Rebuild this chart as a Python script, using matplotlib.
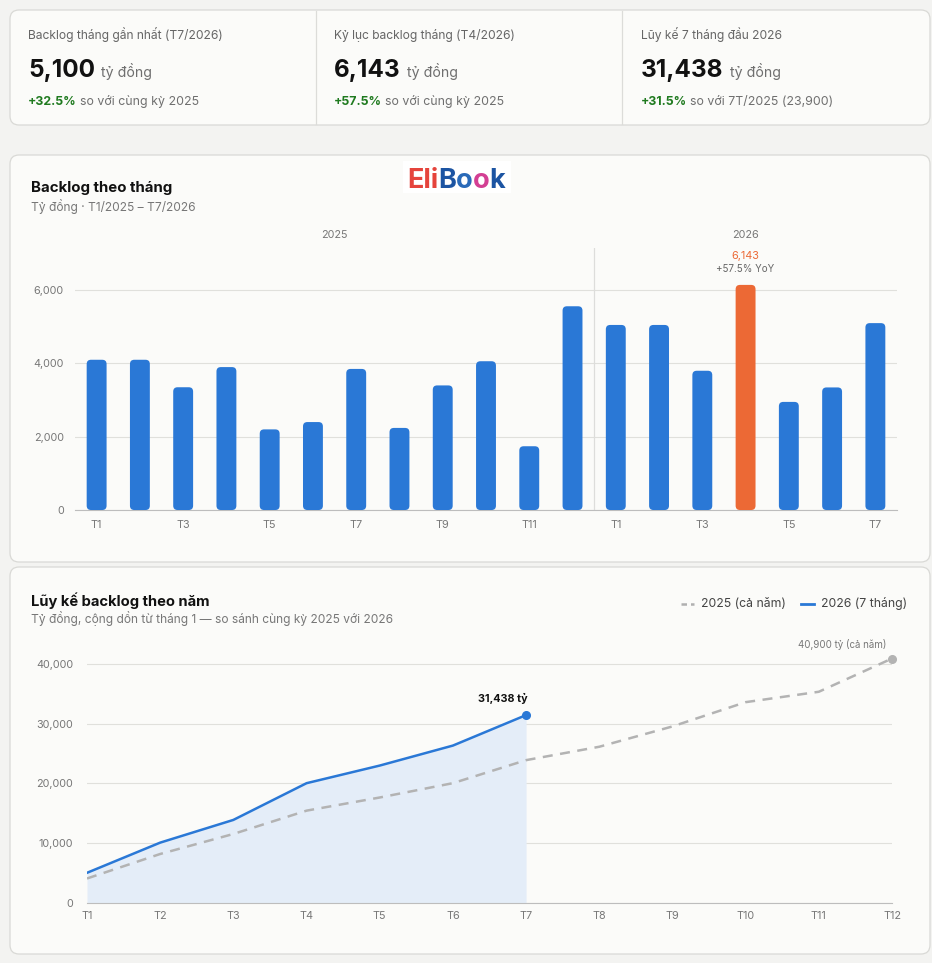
import matplotlib
matplotlib.use("Agg")
import matplotlib.pyplot as plt
from matplotlib.patches import FancyBboxPatch
from matplotlib.lines import Line2D
import numpy as np

plt.rcParams['font.family'] = ['Inter', 'DejaVu Sans']

# ---- data ----
months_2025 = ['T1', 'T2', 'T3', 'T4', 'T5', 'T6', 'T7', 'T8', 'T9', 'T10', 'T11', 'T12']
backlog_2025 = [4100, 4100, 3350, 3900, 2200, 2400, 3850, 2240, 3400, 4060, 1740, 5560]
months_2026 = ['T1', 'T2', 'T3', 'T4', 'T5', 'T6', 'T7']
backlog_2026 = [5050, 5050, 3800, 6143, 2950, 3345, 5100]
yticks_bar = [0, 2000, 4000, 6000]
yticks_line = [0, 10000, 20000, 30000, 40000]

kpi_labels = ['Backlog tháng gần nhất (T7/2026)', 'Kỷ lục backlog tháng (T4/2026)',
              'Lũy kế 7 tháng đầu 2026']
kpi_values = ['5,100', '6,143', '31,438']
kpi_changes = ['+32.5%', '+57.5%', '+31.5%']
kpi_notes = ['so với cùng kỳ 2025', 'so với cùng kỳ 2025', 'so với 7T/2025 (23,900)']

cum_2025 = np.cumsum(backlog_2025)
cum_2026 = np.cumsum(backlog_2026)

BLUE = '#2a78d6'
ORANGE = '#ec6935'
GRAY = '#777777'
GRID = '#e0e0dc'
PAGE = '#f3f3f1'
CARD = '#fbfbf9'

W, H = 932, 963
fig = plt.figure(figsize=(W / 100, H / 100), dpi=100, facecolor=PAGE)
bg = fig.add_axes([0, 0, 1, 1], zorder=0)
bg.set_xlim(0, W)
bg.set_ylim(H, 0)
bg.axis('off')
renderer = fig.canvas.get_renderer()


def card(x0, y0, x1, y1):
    bg.add_patch(FancyBboxPatch((x0, y0), x1 - x0, y1 - y0,
                                boxstyle='round,pad=0,rounding_size=9',
                                fc=CARD, ec='#d9d9d6', lw=0.9))


def run(x, y, parts):
    # draw text pieces one after another on the same baseline
    for s, gap, kw in parts:
        t = bg.text(x, y, s, va='baseline', ha='left', **kw)
        x += t.get_window_extent(renderer).width + gap
    return x


def frac(x0, y0, x1, y1):
    return [x0 / W, 1 - y1 / H, (x1 - x0) / W, (y1 - y0) / H]


# ---- KPI cards ----
card(10, 10, 930, 125)
for xd in [316, 622]:
    bg.plot([xd, xd], [11, 124], color='#dcdcd9', lw=0.9)
for i, x0 in enumerate([28, 334, 641]):
    bg.text(x0, 39.5, kpi_labels[i], fontsize=8.7, color='#666666', va='baseline')
    run(x0, 77, [(kpi_values[i], 6, dict(fontsize=17.5, fontweight='bold', color='#111111')),
                 ('tỷ đồng', 0, dict(fontsize=10.2, color='#6f6f6f'))])
    run(x0, 105, [(kpi_changes[i], 3, dict(fontsize=8.9, fontweight='bold', color='#1f7a1f')),
                  (kpi_notes[i], 0, dict(fontsize=8.9, color='#6f6f6f'))])

# ---- bar card ----
card(10, 155, 930, 562)
bg.text(31, 192, 'Backlog theo tháng', fontsize=10.8, fontweight='bold', color='#111111',
        va='baseline')
bg.text(31, 210.5, 'Tỷ đồng · T1/2025 – T7/2026', fontsize=8.6, color='#777777', va='baseline')

# logo
bg.add_patch(plt.Rectangle((403, 161), 108, 32, fc='white', ec='none'))
run(407, 188, [('Eli', 0, dict(fontsize=19.5, fontweight='bold', color='#e5443c')),
               ('B', 0, dict(fontsize=19.5, fontweight='bold', color='#1c54a2')),
               ('o', 0, dict(fontsize=19.5, fontweight='bold', color='#2a6ab8')),
               ('o', 0, dict(fontsize=19.5, fontweight='bold', color='#d33f93')),
               ('k', 0, dict(fontsize=19.5, fontweight='bold', color='#1c54a2'))])

axb = fig.add_axes(frac(75, 248, 897, 510), zorder=1)
axb.patch.set_alpha(0)
vals = backlog_2025 + backlog_2026
labels = months_2025 + months_2026
xs = np.arange(len(vals))
colors = [BLUE] * len(vals)
rec_i = len(backlog_2025) + int(np.argmax(backlog_2026))
colors[rec_i] = ORANGE
ymax_b = 7150
axb.set_xlim(-0.5, len(vals) - 0.5)
axb.set_ylim(0, ymax_b)
bars = axb.bar(xs, vals, width=0.46, color=colors)
aspect = (ymax_b / 262) / (len(vals) / 822)
for r in bars:
    r.set_visible(False)
    axb.add_patch(FancyBboxPatch((r.get_x(), 0), r.get_width(), r.get_height(),
                                 boxstyle='round,pad=0,rounding_size=0.1',
                                 mutation_aspect=aspect, fc=r.get_facecolor(), ec='none',
                                 zorder=3))
odd = [i for i in xs if int(labels[i][1:]) % 2 == 1]
axb.set_yticks(yticks_bar)
axb.set_yticklabels([f'{v:,}' for v in yticks_bar])
axb.set_xticks(odd)
axb.set_xticklabels([labels[i] for i in odd])
axb.tick_params(length=0, labelsize=7.8, labelcolor=GRAY, pad=7)
axb.tick_params(axis='y', pad=8)
axb.grid(axis='y', color=GRID, lw=0.8, zorder=0)
axb.set_axisbelow(True)
for s in ['top', 'right', 'left']:
    axb.spines[s].set_visible(False)
axb.spines['bottom'].set_color('#bdbdbd')
axb.axvline(len(backlog_2025) - 0.5, color='#dddddb', lw=0.9, zorder=1)
axb.text((len(backlog_2025) - 1) / 2, 1.05, '2025', transform=axb.get_xaxis_transform(),
         ha='center', va='center', fontsize=7.8, color=GRAY)
axb.text(len(backlog_2025) + (len(backlog_2026) - 1) / 2, 1.05, '2026',
         transform=axb.get_xaxis_transform(), ha='center', va='center', fontsize=7.8, color=GRAY)
rec_v = vals[rec_i]
yoy = (rec_v / backlog_2025[int(np.argmax(backlog_2026))] - 1) * 100
axb.annotate(f'{rec_v:,}', (rec_i, rec_v), xytext=(0, 21), textcoords='offset points',
             ha='center', va='center', fontsize=7.8, color=ORANGE)
axb.annotate(f'+{yoy:.1f}% YoY', (rec_i, rec_v), xytext=(0, 11.5), textcoords='offset points',
             ha='center', va='center', fontsize=7, color='#666666')

# ---- cumulative line card ----
card(10, 567, 930, 954)
bg.text(31, 606, 'Lũy kế backlog theo năm', fontsize=10.6, fontweight='bold', color='#111111',
        va='baseline')
bg.text(31, 623.5, 'Tỷ đồng, cộng dồn từ tháng 1 — so sánh cùng kỳ 2025 với 2026',
        fontsize=8.6, color='#777777', va='baseline')

# legend
bg.add_line(Line2D([681, 694], [604, 604], color='#b0b0b0', lw=1.8, ls=(0, (2.2, 1.6))))
bg.text(701, 604, '2025 (cả năm)', fontsize=8.8, color='#444444', va='center')
bg.add_line(Line2D([801, 814], [604, 604], color=BLUE, lw=2))
bg.text(821, 604, '2026 (7 tháng)', fontsize=8.8, color='#444444', va='center')

axl = fig.add_axes(frac(87, 640, 892, 903), zorder=1)
axl.patch.set_alpha(0)
x25 = np.arange(len(cum_2025))
x26 = np.arange(len(cum_2026))
axl.set_xlim(0, len(cum_2025) - 1)
axl.set_ylim(0, 44000)
axl.fill_between(x26, cum_2026, 0, color='#e4edf8', lw=0, zorder=1)
axl.plot(x25, cum_2025, color='#b3b3b3', lw=1.8, ls=(0, (4, 3)), zorder=2)
axl.plot(x26, cum_2026, color=BLUE, lw=1.8, zorder=3)
axl.plot(x26[-1], cum_2026[-1], 'o', color=BLUE, ms=5.5, zorder=4, clip_on=False)
axl.plot(x25[-1], cum_2025[-1], 'o', color='#b3b3b3', ms=5.5, zorder=4, clip_on=False)
axl.annotate(f'{cum_2026[-1]:,} tỷ', (x26[-1], cum_2026[-1]), xytext=(-17, 12),
             textcoords='offset points', ha='center', va='center', fontsize=7.8,
             fontweight='bold', color='#111111')
axl.annotate(f'{cum_2025[-1]:,} tỷ (cả năm)', (x25[-1], cum_2025[-1]), xytext=(-4, 10),
             textcoords='offset points', ha='right', va='center', fontsize=7, color=GRAY)
axl.set_yticks(yticks_line)
axl.set_yticklabels([f'{v:,}' for v in yticks_line])
axl.set_xticks(x25)
axl.set_xticklabels(months_2025)
axl.tick_params(length=0, labelsize=7.8, labelcolor=GRAY)
axl.tick_params(axis='x', pad=6)
axl.tick_params(axis='y', pad=10)
axl.grid(axis='y', color=GRID, lw=0.8, zorder=0)
axl.set_axisbelow(True)
for s in ['top', 'right', 'left']:
    axl.spines[s].set_visible(False)
axl.spines['bottom'].set_color('#bdbdbd')

fig.savefig('out.png', dpi=100, facecolor=PAGE)
